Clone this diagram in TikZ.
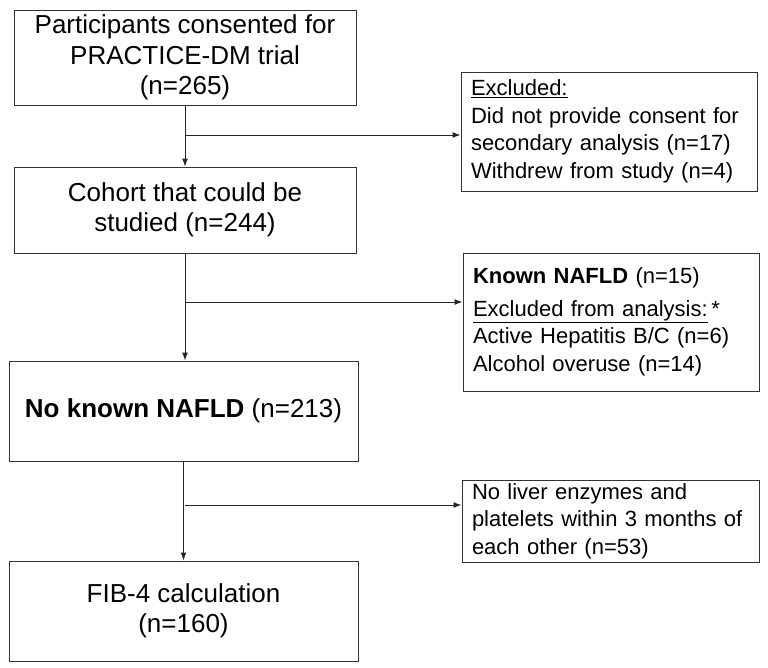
\documentclass[tikz,border=0pt]{standalone}
\usepackage{fontspec}
\setmainfont{Liberation Sans}
\usetikzlibrary{arrows.meta}
\tikzset{
  mainbox/.style={draw=black!80,line width=1pt,align=center,inner sep=0pt,font=\fontsize{26}{30.5}\selectfont},
  sidebox/.style={draw=black!80,line width=1pt,align=left,inner xsep=10pt,inner ysep=0pt,font=\fontsize{22}{27.5}\selectfont},
  flow/.style={line width=1pt,draw=black!85,-{Latex[length=8pt,width=6pt]}}
}
\newcommand{\mainnode}[6]{\node[mainbox,minimum width=#3,minimum height=#4] (#5) at (#1,#2) {#6};}
\newcommand{\sidenode}[6]{\node[sidebox,text width=#3-20,minimum height=#4] (#5) at (#1,#2) {#6};}
\newcommand{\vedge}[2]{\draw[flow] (#1.south) -- (#1.south |- #2.north);}
\newcommand{\hedge}[2]{\draw[flow] (#1) -- (#1 -| #2.west);}

\begin{document}
\begin{tikzpicture}[x=1pt,y=-1pt]
	\useasboundingbox (0,0) rectangle (768,667);
	% main column
	\mainnode{185}{57.5}{342}{95}{consent}{Participants consented for\\PRACTICE-DM trial\\(n=265)}
	\mainnode{185}{210}{342}{86}{cohort}{Cohort that could be\\studied (n=244)}
	\mainnode{183.5}{411}{349}{100}{nonafld}{\textbf{No known NAFLD} (n=213)}
	\mainnode{183.5}{611}{349}{100}{fib}{FIB-4 calculation\\(n=160)}
	% exclusions
	\sidenode{609}{131.5}{296}{119}{excl}{\underline{Excluded:}\\Did not provide consent for\\secondary analysis (n=17)\\Withdrew from study (n=4)}
	\sidenode{611}{322}{296}{138}{nafld}{\textbf{Known NAFLD} (n=15)\\[5pt]\underline{Excluded from analysis:}\,*\\Active Hepatitis B/C (n=6)\\Alcohol overuse (n=14)}
	\sidenode{610.5}{521}{297}{82}{enz}{No liver enzymes and\\platelets within 3 months of\\each other (n=53)}
	% branch points
	\coordinate (j1) at (185,135);
	\coordinate (j2) at (185,302);
	\coordinate (j3) at (185,505);
	\vedge{consent}{cohort} \vedge{cohort}{nonafld} \vedge{nonafld}{fib}
	\hedge{j1}{excl} \hedge{j2}{nafld} \hedge{j3}{enz}
\end{tikzpicture}
\end{document}
